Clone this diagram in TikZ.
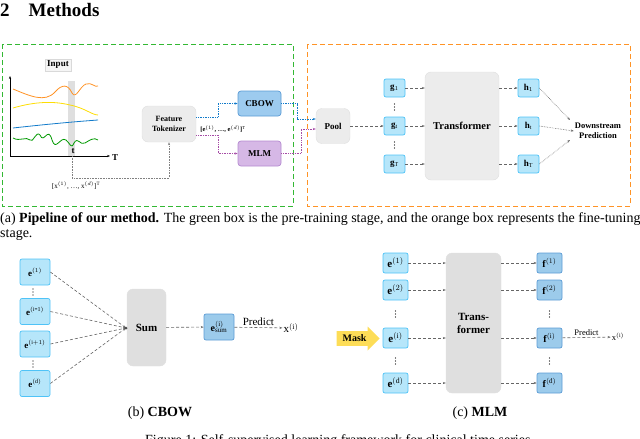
\documentclass[tikz,border=0pt]{standalone}
\usepackage{fontspec}
\setmainfont{Liberation Serif}
\usetikzlibrary{arrows.meta,shapes.arrows}
\definecolor{tokf}{HTML}{B6E6FA}
\definecolor{tokb}{HTML}{4FC3F7}
\definecolor{tokdf}{HTML}{9CCBEB}
\definecolor{tokdb}{HTML}{5B9BD5}
\definecolor{cbowf}{HTML}{9DCBEF}
\definecolor{mlmf}{HTML}{D6B8E6}
\definecolor{mlmb}{HTML}{B48AD0}
\begin{document}
\begin{tikzpicture}[x=1pt,y=-1pt,
  lab/.style={font=\fontsize{9}{10}\selectfont\bfseries},
  vd/.pic={\foreach \k in {-3,0,3} \fill[black] (0,\k) circle (0.7pt);},
  tok/.style={draw=tokb,fill=tokf,rounded corners=2pt,line width=0.7pt,inner sep=0pt,font=\fontsize{9}{10}\selectfont\bfseries},
  tokd/.style={draw=tokdb,fill=tokdf,rounded corners=2pt,line width=0.7pt,inner sep=0pt,font=\fontsize{9}{10}\selectfont\bfseries},
  gbox/.style={draw=gray!25,fill=gray!15,rounded corners=6pt,inner sep=0pt,font=\fontsize{9}{10}\selectfont\bfseries,align=center},
  dl/.style={densely dashed,gray!80!black,line width=0.6pt,-{Stealth[length=3pt]}},
  plab/.style={above,text=black,inner sep=2pt},
  captxt/.style={font=\fontsize{14}{15}\selectfont,anchor=west,inner sep=0pt}]
\useasboundingbox (0,0) rectangle (640,439);
\node[anchor=west,inner sep=0pt,font=\fontsize{19}{21}\selectfont\bfseries] (title) at (0,10) {2\hspace{19pt}Methods};
% stage boxes
\draw[green!65!black!80,line width=1pt,dash pattern=on 5pt off 3pt] (2,44) rectangle (293,206);
\draw[orange!85,line width=1pt,dash pattern=on 5pt off 3pt] (307,44) rectangle (630,206);
% plot
\fill[gray!25] (68,81) rectangle (75,156);
\draw[-{Stealth[length=3pt]},line width=0.6pt] (10,156) -- (10,76);
\draw[-{Stealth[length=3pt]},line width=0.6pt] (10,156) -- (110,156);
\node[lab] (T) at (115,158) {T};
\node[lab] (t) at (73,151) {t};
\node[lab,draw=gray!30,fill=gray!8,inner sep=2pt] (input) at (58,65) {Input};
\draw[orange!85,line width=0.8pt] (13,89) .. controls (30,96) and (45,103) .. (55,92) .. controls (62,84) and (68,84) .. (72,93) .. controls (76,100) and (80,86) .. (86,84) .. controls (92,82) and (95,88) .. (98,86);
\draw[yellow!80!orange,line width=0.8pt] (13,108) .. controls (30,103) and (50,100) .. (70,105) .. controls (85,108) and (92,115) .. (98,115);
\draw[cyan!60!blue,line width=0.8pt] (13,128) .. controls (40,125) and (70,122) .. (98,120);
\draw[green!60!black,line width=0.8pt] (13,138) .. controls (20,142) and (26,136) .. (30,140) .. controls (33,144) and (36,130) .. (40,135) .. controls (44,145) and (48,125) .. (52,140) .. controls (56,152) and (60,136) .. (66,140) .. controls (70,143) and (71,150) .. (74,143) .. controls (78,136) and (80,146) .. (85,143) .. controls (90,140) and (94,137) .. (98,140);
% tokenizer
\node[gbox,minimum width=54pt,minimum height=36pt,font=\fontsize{8}{9.5}\selectfont\bfseries] (tokz) at (169,124) {Feature\\Tokenizer};
\node[draw=tokdb,fill=cbowf,rounded corners=3pt,minimum width=43pt,minimum height=25pt,lab,line width=0.7pt] (cbow) at (259.5,103.5) {CBOW};
\node[draw=mlmb,fill=mlmf,rounded corners=3pt,minimum width=43pt,minimum height=25pt,lab,line width=0.7pt] (mlm) at (259.5,153.5) {MLM};
\node[font=\fontsize{6.5}{7}\selectfont\bfseries,inner sep=0pt] (elab) at (223,129) {[e$^{(1)}$, \dots, e$^{(d)}$]$^{\mathrm{T}}$};
\node[font=\fontsize{7}{8}\selectfont,inner sep=0pt] (xlab) at (76,186) {[x$^{(1)}$, \dots, x$^{(d)}$]$^{\mathrm{T}}$};
\coordinate (tb) at (72,156);
\draw[densely dotted,gray,line width=0.6pt,-{Stealth[length=3pt]}] (tb) -- (72,178) -- (169,178) -- (tokz.south);
\draw[densely dotted,cyan!60!blue,line width=0.7pt,-{Stealth[length=3pt]}] (tokz.east |- 0,117) -- (218,117) -- (218,103.5) -- (cbow.west);
\draw[densely dotted,violet!70,line width=0.7pt,-{Stealth[length=3pt]}] (tokz.east |- 0,135) -- (218,135) -- (218,153.5) -- (mlm.west);
% fine-tune
\node[gbox,minimum width=34pt,minimum height=35pt] (pool) at (333,126) {Pool};
\draw[densely dotted,cyan!60!blue,line width=0.7pt,-{Stealth[length=3pt]}] (cbow.east) -- (297,103.5) -- (297,119) -- (pool.west |- 0,119);
\draw[densely dotted,violet!70,line width=0.7pt,-{Stealth[length=3pt]}] (mlm.east) -- (301,153.5) -- (301,129) -- (pool.west |- 0,129);
\node[tok,minimum width=21pt,minimum height=18pt] (g1) at (394.5,88) {g$_1$};
\node[tok,minimum width=21pt,minimum height=18pt] (gt) at (394.5,126) {g$_\mathrm{t}$};
\node[tok,minimum width=21pt,minimum height=18pt] (gT) at (394.5,164) {g$_\mathrm{T}$};
\pic at (394.5,107) {vd};
\pic at (394.5,145) {vd};
\node[gbox,minimum width=74pt,minimum height=108pt,font=\fontsize{10.5}{12}\selectfont\bfseries] (tf) at (462,126) {Transformer};
\node[tok,minimum width=21pt,minimum height=18pt] (h1) at (528.5,88) {h$_1$};
\node[tok,minimum width=21pt,minimum height=18pt] (ht) at (528.5,126) {h$_\mathrm{t}$};
\node[tok,minimum width=21pt,minimum height=18pt] (hT) at (528.5,164) {h$_\mathrm{T}$};
\node[font=\fontsize{8.5}{10.5}\selectfont\bfseries,align=center,inner sep=1pt] (ds) at (598,131) {Downstream\\Prediction};
\draw[dl] (pool) -- (gt);
\draw[dl] (g1) -- (tf.west |- g1);
\draw[dl] (gt) -- (tf.west |- gt);
\draw[dl] (gT) -- (tf.west |- gT);
\draw[dl] (tf.east |- h1) -- (h1);
\draw[dl] (tf.east |- ht) -- (ht);
\draw[dl] (tf.east |- hT) -- (hT);
\draw[dl,densely dotted] (h1.east) -- (570,120);
\draw[dl,densely dotted] (ht.east) -- (ds.west);
\draw[dl,densely dotted] (hT.east) -- (570,140);
% captions a
\node[captxt] (capa) at (0,219) {(a) \textbf{Pipeline of our method.} The green box is the pre-training stage, and the orange box represents the fine-tuning};
\node[captxt] (capa2) at (0,235) {stage.};
% (b) CBOW
\node[tok,minimum width=30pt,minimum height=26pt] (b1) at (35,272) {e$^{(1)}$};
\node[tok,minimum width=30pt,minimum height=26pt] (b2) at (35,311.5) {e$^{(\mathrm{i\mbox{-}1})}$};
\node[tok,minimum width=30pt,minimum height=26pt] (b3) at (35,344) {e$^{(\mathrm{i}+1)}$};
\node[tok,minimum width=30pt,minimum height=26pt] (b4) at (35,383.5) {e$^{(\mathrm{d})}$};
\pic at (33,292) {vd};
\pic at (33,364) {vd};
\node[gbox,fill=gray!25,minimum width=39pt,minimum height=77pt,font=\fontsize{11}{12}\selectfont\bfseries] (sum) at (146.5,327.5) {Sum};
\coordinate (cv) at (126,328);
\foreach \b in {b1,b2,b3,b4} \draw[dl] (\b.east) -- (cv);
\fill[gray!60!black] (cv) circle (1.5pt);
\node[tokd,minimum width=30pt,minimum height=26pt,font=\fontsize{10}{11}\selectfont\bfseries] (es) at (219,327) {e$^{(\mathrm{i})}_{\mathrm{sum}}$};
\draw[dl] (sum) -- (es);
\node[font=\fontsize{11}{12}\selectfont,inner sep=1pt] (xb) at (291,328) {x$^{(\mathrm{i})}$};
\draw[dl] (es) -- node[plab,font=\fontsize{11}{12}\selectfont] {Predict} (xb);
\node[font=\fontsize{14}{15}\selectfont] (capb) at (160,413) {(b) \textbf{CBOW}};
% (c) MLM
\node[tok,minimum width=25pt,minimum height=20pt,font=\fontsize{11}{12}\selectfont\bfseries] (m1) at (395.5,263) {e$^{(1)}$};
\node[tok,minimum width=25pt,minimum height=20pt,font=\fontsize{11}{12}\selectfont\bfseries] (m2) at (395.5,290) {e$^{(2)}$};
\node[tok,minimum width=25pt,minimum height=20pt,font=\fontsize{11}{12}\selectfont\bfseries] (m3) at (395.5,338) {e$^{(\mathrm{i})}$};
\node[tok,minimum width=25pt,minimum height=20pt,font=\fontsize{11}{12}\selectfont\bfseries] (m4) at (395.5,383) {e$^{(\mathrm{d})}$};
\pic at (395.5,314) {vd};
\pic at (395.5,361) {vd};
\node[single arrow,fill=yellow!65!orange!65,draw=none,minimum height=43pt,minimum width=24pt,single arrow head extend=3pt,inner sep=1pt,font=\fontsize{10}{11}\selectfont\bfseries,anchor=east] (mask) at (380,338.5) {Mask\hspace{5pt}};
\node[gbox,fill=gray!25,minimum width=55pt,minimum height=140pt,font=\fontsize{11}{13}\selectfont\bfseries] (tf2) at (473.5,323) {Trans-\\former};
\node[tokd,minimum width=25pt,minimum height=20pt,font=\fontsize{10}{11}\selectfont\bfseries] (f1) at (549.5,263) {f$^{(1)}$};
\node[tokd,minimum width=25pt,minimum height=20pt,font=\fontsize{10}{11}\selectfont\bfseries] (f2) at (549.5,290) {f$^{(2)}$};
\node[tokd,minimum width=25pt,minimum height=20pt,font=\fontsize{10}{11}\selectfont\bfseries] (f3) at (549.5,338) {f$^{(\mathrm{i})}$};
\node[tokd,minimum width=25pt,minimum height=20pt,font=\fontsize{10}{11}\selectfont\bfseries] (f4) at (549.5,383) {f$^{(\mathrm{d})}$};
\pic at (549.5,314) {vd};
\pic at (549.5,361) {vd};
\foreach \m in {m1,m2,m3,m4} \draw[dl] (\m) -- (tf2.west |- \m);
\foreach \f in {f1,f2,f3,f4} \draw[dl] (tf2.east |- \f) -- (\f);
\node[font=\fontsize{8.5}{9}\selectfont,inner sep=1pt] (xc) at (618,337) {x$^{(\mathrm{i})}$};
\draw[dl] (f3) -- node[plab,font=\fontsize{8.5}{9}\selectfont] {Predict} (xc);
\node[font=\fontsize{14}{15}\selectfont] (capc) at (480,413) {(c) \textbf{MLM}};
\node[font=\fontsize{14}{15}\selectfont,anchor=west,inner sep=0pt] (fig) at (145,441) {Figure 1: Self-supervised learning framework for clinical time series.};
\end{tikzpicture}
\end{document}
